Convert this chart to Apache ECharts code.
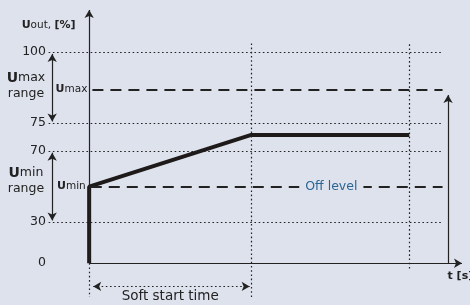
<!DOCTYPE html>
<html>
<head>
<meta charset="utf-8">
<script src="https://cdn.jsdelivr.net/npm/echarts@6/dist/echarts.min.js"></script>
<style>
    html, body { margin: 0; padding: 0; background: #dee2ed; }
    #chart { width: 470px; height: 305px; }
</style>
</head>
<body>
<div id="chart"></div>
<script>
// y axis is schematic (not linear in %), so values are given as drawing levels
var tickLabels = ['0', '30', '70', '75', '100']
var tickLevels = [0, 19.5, 53.2, 66.4, 100]

var uminLevel = 36.3       // Umin / Off level
var umaxLevel = 82.4       // Umax
var plateauLevel = 60.8    // output after soft start

var softStartEnd = 10      // t at end of soft start
var runEnd = 19.75         // t where output line stops

// output curve points [t, level]
var outputT = [0, 0, softStartEnd, runEnd]
var outputLevel = [0, uminLevel, plateauLevel, plateauLevel]

var bg = '#dee2ed'
var ink = '#222'
var font = 'DejaVu Sans'

var outputData = []
for (let i = 0; i < outputT.length; i++) {
    outputData.push([outputT[i], outputLevel[i]])
}

function seg(a, b, style, extra) {
    var item = [
        { coord: a, symbol: (extra && extra.s0) || 'none' },
        { coord: b, symbol: (extra && extra.s1) || 'none' }
    ]
    item[0].lineStyle = style
    if (extra && extra.label) item[0].label = extra.label
    return item
}

var dotted = { color: '#222', width: 1.2, type: [1.6, 2.6] }
var dashed = { color: ink, width: 2, type: [11, 7] }
var solid = { color: ink, width: 1.2, type: 'solid' }

var lines = []
// horizontal dotted grid at tick levels (not at 0)
for (let i = 1; i < tickLevels.length; i++) {
    lines.push(seg([-2.5, tickLevels[i]], [21.8, tickLevels[i]], dotted))
}
// vertical dotted guides
lines.push(seg([softStartEnd, -16], [softStartEnd, 104.8], dotted))
lines.push(seg([runEnd, -2.5], [runEnd, 104.8], dotted))
lines.push(seg([0, 0], [0, -16], dotted))
// axes
lines.push(seg([0, 0], [0, 120], solid, { s1: 'arrow' }))
lines.push(seg([0, 0], [23, 0], solid, { s1: 'arrow' }))
// Umax and Off level dashed lines
var smallRich = {
    b: { fontWeight: 'bold', fontSize: 11, color: ink, fontFamily: font },
    r: { fontSize: 10.5, color: ink, fontFamily: font }
}
lines.push(seg([0.2, umaxLevel], [21.8, umaxLevel], dashed, {
    label: { show: true, position: 'start', distance: 5, formatter: '{b|U}{r|max}', rich: smallRich }
}))
lines.push(seg([0.1, uminLevel], [21.8, uminLevel], dashed, {
    label: { show: true, position: 'start', distance: 5, formatter: '{b|U}{r|min}', rich: smallRich }
}))
// range arrows
lines.push(seg([-2.28, 99.2], [-2.28, 67.2], solid, { s0: 'arrow', s1: 'arrow' }))
lines.push(seg([-2.28, 52.4], [-2.28, 20.3], solid, { s0: 'arrow', s1: 'arrow' }))
lines.push(seg([22.14, 0], [22.14, 79.7], solid, { s1: 'arrow' }))
// soft start time dimension
lines.push(seg([0.25, -11], [9.9, -11], dotted, { s0: 'arrow', s1: 'arrow' }))

var richBig = {
    b: { fontWeight: 'bold', fontSize: 14, color: ink, fontFamily: font },
    r: { fontSize: 12.5, color: ink, fontFamily: font, lineHeight: 16 }
}

var texts = [
    { coord: [-2.5, 113], label: { formatter: '{b|U}{r|out, }{b|[%]}', rich: {
        b: { fontWeight: 'bold', fontSize: 11, color: ink, fontFamily: font },
        r: { fontSize: 10.5, color: ink, fontFamily: font } } } },
    { coord: [-3.9, 84], label: { formatter: '{b|U}{r|max}\n{r|range}', rich: richBig } },
    { coord: [-3.9, 39], label: { formatter: '{b|U}{r|min}\n{r|range}', rich: richBig } },
    { coord: [14.94, uminLevel], label: { formatter: 'Off level', color: '#2a6593', fontSize: 12.5,
        fontFamily: font, backgroundColor: bg, padding: [2, 6] } },
    { coord: [5, -15.6], label: { formatter: 'Soft start time', color: ink, fontSize: 13.5, fontFamily: font } },
    { coord: [22.9, -6], label: { formatter: 't [s]', color: ink, fontSize: 11, fontWeight: 'bold', fontFamily: font } }
]

var myChart = echarts.init(document.getElementById('chart'))
var option = {
    backgroundColor: bg,
    animation: false,
    grid: { left: 0, right: 8, top: 10, bottom: 8 },
    xAxis: { type: 'value', min: -5.5, max: 23, show: false },
    yAxis: {
        type: 'value',
        min: -16,
        max: 120,
        offset: -48,
        axisLine: { show: false },
        axisTick: { show: false },
        splitLine: { show: false },
        axisLabel: {
            customValues: tickLevels,
            margin: 2,
            color: ink,
            fontSize: 12.5,
            fontFamily: font,
            formatter: function (v) {
                var i = tickLevels.indexOf(v)
                return i >= 0 ? tickLabels[i] : ''
            }
        }
    },
    series: [{
        type: 'line',
        data: outputData,
        showSymbol: false,
        lineStyle: { color: '#1e1a1a', width: 4 },
        markLine: {
            silent: true,
            symbol: 'none',
            symbolSize: [7, 8],
            label: { show: false },
            data: lines
        },
        markPoint: {
            silent: true,
            z: 10,
            symbol: 'circle',
            symbolSize: 0,
            label: { show: true, position: 'inside' },
            data: texts
        }
    }]
}
myChart.setOption(option)
</script>
</body>
</html>
